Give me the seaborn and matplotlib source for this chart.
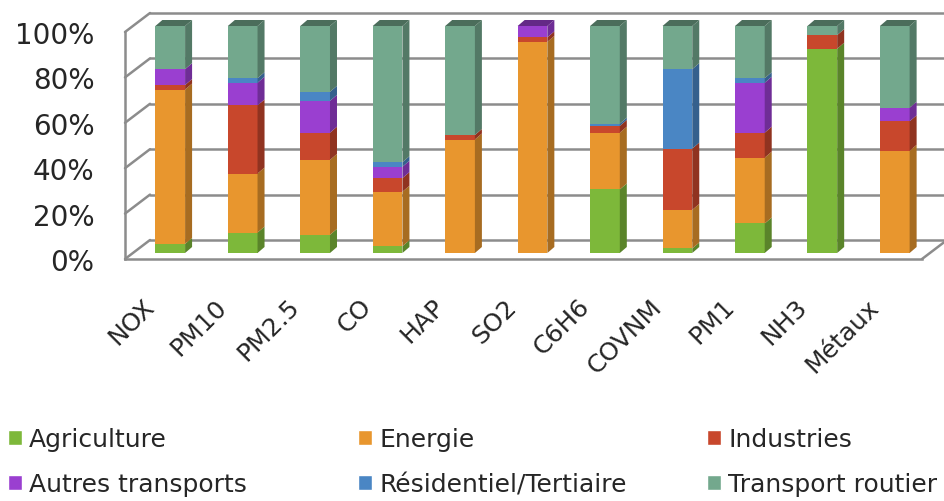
import numpy as np
import pandas as pd
import matplotlib
matplotlib.use("Agg")
import matplotlib.pyplot as plt
import seaborn as sns
from matplotlib.patches import Patch, Polygon
from matplotlib.transforms import ScaledTranslation
from matplotlib.colors import to_rgb

# données (% par polluant)
polluants = ["NOX", "PM10", "PM2.5", "CO", "HAP", "SO2", "C6H6", "COVNM", "PM1", "NH3", "Métaux"]
secteurs = ["Agriculture", "Energie", "Industries", "Autres transports",
            "Résidentiel/Tertiaire", "Transport routier"]
agriculture = [4, 9, 8, 3, 0, 0, 28, 2, 13, 90, 0]
energie = [68, 26, 33, 24, 50, 93, 25, 17, 29, 0, 45]
industries = [2, 30, 12, 6, 2, 2, 3, 27, 11, 6, 13]
autres_transports = [7, 10, 14, 5, 0, 5, 0, 0, 22, 0, 6]
residentiel = [0, 2, 4, 2, 0, 0, 1, 35, 2, 0, 0]
transport_routier = [19, 23, 29, 60, 48, 0, 43, 19, 23, 4, 36]
couleurs = ["#7db83a", "#e8962e", "#c8472c", "#9a3fd0", "#4a86c4", "#73a88d"]

df = pd.DataFrame({"Polluant": polluants})
for s, v in zip(secteurs, [agriculture, energie, industries, autres_transports,
                           residentiel, transport_routier]):
    df[s] = v
cum = df[secteurs].cumsum(axis=1)
cum = cum.div(cum[secteurs[-1]], axis=0) * 100

sns.set_style("white")
plt.rcParams["font.family"] = ["DejaVu Sans"]

fig = plt.figure(figsize=(9.45, 5.02), dpi=100)
ax = fig.add_axes([125 / 945, 242 / 502, 797 / 945, 227 / 502])

gris = "#8c8c8c"
ppx = 1 / 100  # pixel -> pouce
bw = 0.41

# pile : on dessine les cumuls du plus haut au plus bas
for s, c in reversed(list(zip(secteurs, couleurs))):
    sns.barplot(data=cum, x=df["Polluant"], y=s, color=c, width=bw,
                saturation=1, ax=ax, zorder=3)

ax.set_xlim(-0.5, 10.5)
ax.set_ylim(0, 100)

# décalage 3D des barres
bar_tr = ax.transData + ScaledTranslation(9 * ppx, 6 * ppx, fig.dpi_scale_trans)
for p in ax.patches:
    p.set_transform(bar_tr)
    p.set_edgecolor("none")
    p.set_clip_on(False)

# faces latérales et dessus
xpx = 797 / 11
ypx = 227 / 100
ddx, ddy = 7 / xpx, 6 / ypx
for i in range(len(polluants)):
    x1 = i + bw / 2
    x0 = i - bw / 2
    bas = 0
    for s, c in zip(secteurs, couleurs):
        haut = cum.loc[i, s]
        if haut - bas > 0:
            dark = tuple(np.array(to_rgb(c)) * 0.72)
            ax.add_patch(Polygon([(x1, bas), (x1 + ddx, bas + ddy), (x1 + ddx, haut + ddy), (x1, haut)],
                                 closed=True, fc=dark, ec="none", transform=bar_tr,
                                 clip_on=False, zorder=3))
            top_c = dark
        bas = haut
    ax.add_patch(Polygon([(x0, 100), (x0 + ddx, 100 + ddy), (x1 + ddx, 100 + ddy), (x1, 100)],
                         closed=True, fc=tuple(np.array(top_c) * 0.9), ec="none",
                         transform=bar_tr, clip_on=False, zorder=3))

# parois du fond
bx, by = 25 / xpx, 19 / ypx
for v in range(0, 101, 20):
    ax.plot([-0.5 + bx, 10.5 + bx], [v + by, v + by], color=gris, lw=1.8,
            clip_on=False, zorder=1)
    ax.plot([-0.5, -0.5 + bx], [v, v + by], color=gris, lw=1.8, clip_on=False, zorder=1)
ax.plot([10.5, 10.5 + bx], [0, by], color=gris, lw=1.8, clip_on=False, zorder=1)

for sp in ["top", "right"]:
    ax.spines[sp].set_visible(False)
for sp in ["left", "bottom"]:
    ax.spines[sp].set_color(gris)
    ax.spines[sp].set_linewidth(1.8)
    ax.spines[sp].set_zorder(2)

ax.set_yticks(range(0, 101, 20))
ax.set_yticklabels([f"{v}%" for v in range(0, 101, 20)], fontsize=20)
# étiquettes décalées vers la gauche (effet perspective)
ax.set_xticks(np.arange(len(polluants)) - 0.26)
ax.set_xticklabels(polluants, rotation=45, ha="right", rotation_mode="anchor", fontsize=18)
ax.set_xticks(np.arange(-0.5, 11, 1), minor=True)
ax.tick_params(axis="x", which="major", length=0, pad=25)
ax.tick_params(axis="x", which="minor", length=6, width=1.5, color=gris)
ax.tick_params(axis="y", length=6, width=1.5, color=gris, pad=16)
ax.set_xlabel("")
ax.set_ylabel("")
ax.patch.set_alpha(0)

# légende en trois colonnes
colonnes = [(8, [0, 3]), (358, [1, 4]), (707, [2, 5])]
for xl, idx in colonnes:
    handles = [Patch(fc=couleurs[k], label=secteurs[k]) for k in idx]
    leg = fig.legend(handles=handles, loc="upper left",
                     bbox_to_anchor=(xl / 945, 1 - 428 / 502), frameon=False,
                     fontsize=18, handlelength=0.55, handleheight=0.55,
                     handletextpad=0.3, labelspacing=0.85, borderpad=0, borderaxespad=0)

fig.savefig("out.png", dpi=100)
